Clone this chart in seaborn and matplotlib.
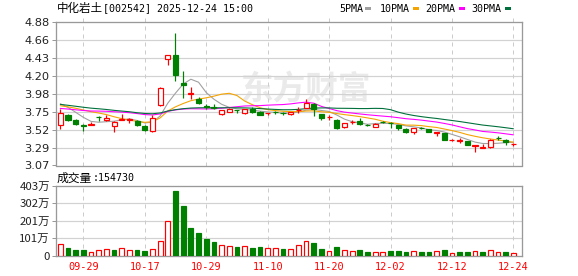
import numpy as np
import pandas as pd
import matplotlib
matplotlib.use("Agg")
import matplotlib.pyplot as plt
from matplotlib.patches import Rectangle
import seaborn as sns

# ---------------- data ----------------
dates = ["09-24", "09-25", "09-26", "09-29", "09-30", "10-09", "10-10", "10-13", "10-14", "10-15",
         "10-16", "10-17", "10-20", "10-21", "10-22", "10-23", "10-24", "10-27", "10-28", "10-29",
         "10-30", "10-31", "11-03", "11-04", "11-05", "11-06", "11-07", "11-10", "11-11", "11-12",
         "11-13", "11-14", "11-17", "11-18", "11-19", "11-20", "11-21", "11-24", "11-25", "11-26",
         "11-27", "11-28", "12-01", "12-02", "12-03", "12-04", "12-05", "12-08", "12-09", "12-10",
         "12-11", "12-12", "12-15", "12-16", "12-17", "12-18", "12-19", "12-22", "12-23", "12-24"]

opens = [3.584, 3.702, 3.647, 3.576, 3.584, 3.686, 3.647, 3.571, 3.643, 3.643,
         3.630, 3.563, 3.508, 3.828, 4.417, 4.472, 4.114, 3.967, 3.912, 3.818,
         3.806, 3.714, 3.747, 3.772, 3.735, 3.785, 3.747, 3.726, 3.743, 3.735,
         3.714, 3.764, 3.798, 3.840, 3.714, 3.676, 3.638, 3.549, 3.617, 3.629,
         3.585, 3.554, 3.619, 3.610, 3.575, 3.533, 3.495, 3.547, 3.524, 3.482,
         3.474, 3.386, 3.377, 3.377, 3.314, 3.293, 3.305, 3.413, 3.385, 3.337]
highs = [3.786, 3.723, 3.660, 3.588, 3.618, 3.690, 3.710, 3.626, 3.723, 3.672,
         3.647, 3.576, 3.702, 4.055, 4.472, 4.742, 4.258, 4.060, 3.934, 3.849,
         3.840, 3.772, 3.789, 3.776, 3.781, 3.806, 3.751, 3.735, 3.756, 3.747,
         3.747, 3.806, 3.903, 3.861, 3.718, 3.701, 3.651, 3.604, 3.638, 3.671,
         3.596, 3.600, 3.625, 3.612, 3.579, 3.537, 3.541, 3.550, 3.528, 3.491,
         3.478, 3.400, 3.411, 3.381, 3.322, 3.335, 3.406, 3.440, 3.406, 3.356]
lows = [3.534, 3.626, 3.580, 3.504, 3.576, 3.630, 3.626, 3.492, 3.639, 3.609,
        3.563, 3.508, 3.492, 3.816, 4.342, 4.135, 3.925, 3.904, 3.849, 3.786,
        3.777, 3.710, 3.747, 3.735, 3.722, 3.735, 3.701, 3.701, 3.714, 3.701,
        3.705, 3.735, 3.789, 3.693, 3.642, 3.638, 3.533, 3.545, 3.596, 3.575,
        3.570, 3.550, 3.610, 3.545, 3.516, 3.482, 3.470, 3.530, 3.487, 3.440,
        3.386, 3.380, 3.356, 3.322, 3.242, 3.293, 3.293, 3.385, 3.326, 3.314]
closes = [3.736, 3.639, 3.592, 3.570, 3.592, 3.682, 3.672, 3.622, 3.656, 3.658,
          3.576, 3.517, 3.672, 4.051, 4.468, 4.211, 4.089, 3.980, 3.862, 3.814,
          3.789, 3.768, 3.785, 3.768, 3.777, 3.743, 3.705, 3.735, 3.739, 3.731,
          3.743, 3.768, 3.861, 3.785, 3.663, 3.680, 3.545, 3.600, 3.621, 3.596,
          3.581, 3.596, 3.615, 3.606, 3.537, 3.491, 3.537, 3.543, 3.491, 3.491,
          3.390, 3.390, 3.390, 3.326, 3.322, 3.301, 3.385, 3.409, 3.368, 3.341]
# closes of the 29 sessions before the window (only used to seed the moving averages)
prior_closes = [3.98, 3.96, 3.95, 3.93, 3.92, 3.94, 3.95, 3.93, 3.92, 3.95,
                3.80, 3.78, 3.75, 3.72, 3.70, 3.72, 3.74, 3.76, 3.79, 3.80,
                3.78, 3.77, 3.79, 3.81, 3.845, 3.87, 3.90, 3.89, 3.849]
# volume in 万 (10k shares)
volumes = [64, 42.6, 31, 31, 19.4, 29, 35, 31, 40.7, 31,
           31, 25, 37, 83, 198, 374, 289, 159, 130, 95,
           77.5, 58, 54, 48, 54, 42.6, 48, 42.6, 42.6, 37,
           37, 60, 83, 72, 37, 25, 48, 31, 25, 31,
           19.4, 19.4, 19.4, 25, 25, 19.4, 25, 19.4, 19.4, 25,
           31, 13.6, 19.4, 19.4, 25, 19.4, 31, 19.4, 19.4, 15.473]
# 1 = up day (red), 0 = down day (green) for volume bars
vol_up = [1, 0, 0, 0, 1, 1, 1, 0, 1, 1,
          0, 0, 1, 1, 1, 0, 0, 0, 0, 0,
          0, 1, 1, 0, 1, 0, 0, 1, 1, 0,
          1, 1, 1, 0, 0, 1, 0, 1, 1, 0,
          0, 1, 1, 0, 0, 0, 1, 0, 0, 1,
          0, 1, 0, 0, 1, 0, 1, 1, 0, 1]

stock_name = "中化岩土"
title_rest = "[002542] 2025-12-24 15:00"
vol_name = "成交量"
vol_rest = ":154730"
price_min, price_max = 3.067, 4.8846
price_tick_labels = ["3.07", "3.29", "3.52", "3.75", "3.98", "4.20", "4.43", "4.66", "4.88"]
vol_max = 403
vol_tick_labels = ["0", "101万", "201万", "302万", "403万"]
xtick_idx = [3, 11, 19, 27, 35, 43, 51, 59]
ma_windows = [5, 10, 20, 30]
ma_names = ["5PMA", "10PMA", "20PMA", "30PMA"]
ma_colors = ["#a0a0a0", "#f5a300", "#ff00ff", "#00703c"]

RED = "#ff0000"
GREEN = "#008000"

# ---------------- style ----------------
sns.set_style("white")
plt.rcParams["font.family"] = ["Noto Sans CJK SC", "DejaVu Sans"]
MONO = ["DejaVu Sans Mono", "Noto Sans CJK SC"]

W, H = 578, 276
fig = plt.figure(figsize=(W / 100, H / 100), dpi=100)
fig.patch.set_facecolor("white")


def rect(l, t, r, b):
    return [l / W, 1 - b / H, (r - l) / W, (b - t) / H]


ax = fig.add_axes(rect(56, 22, 522, 165.5))
axv = fig.add_axes(rect(56, 186, 522, 255.5))

n = len(closes)
idx = np.arange(n)
df = pd.DataFrame({"i": idx, "open": opens, "high": highs, "low": lows,
                   "close": closes, "vol": volumes, "up": vol_up})

# moving averages from closes (seeded by prior closes)
all_closes = pd.Series(prior_closes + closes)
for w, name in zip(ma_windows, ma_names):
    df[name] = all_closes.rolling(w).mean().iloc[len(prior_closes):].to_numpy()

xlim = (-0.56, n - 1 + 1.12)
px = 1 / 100 * 72  # one pixel in points

# watermark
ax.text(0.535, 0.535, "东方财富", transform=ax.transAxes, fontsize=23.5, fontweight="bold",
        color="#eaeaea", ha="center", va="center", zorder=0)

# grid lines
yt = np.linspace(price_min, price_max, len(price_tick_labels))
for y in yt[1:-1]:
    ax.axhline(y, color="#d2d2d2", lw=1.2 * px, zorder=0.5)
vt = np.linspace(0, vol_max, len(vol_tick_labels))
for y in vt[1:-1]:
    axv.axhline(y, color="#d2d2d2", lw=1.2 * px, zorder=0.5)
for a in (ax, axv):
    for xi in xtick_idx:
        a.axvline(xi, color="#cccccc", lw=1 * px, ls=(0, (4, 4)), zorder=0.5)

# MA lines
for name, c in zip(ma_names, ma_colors):
    sns.lineplot(data=df, x="i", y=name, ax=ax, color=c, lw=1.1 * px, zorder=2)

# candles
bw = 0.66
for r in df.itertuples():
    up = r.close >= r.open
    col = RED if up else GREEN
    lo_b, hi_b = min(r.open, r.close), max(r.open, r.close)
    hgt = max(hi_b - lo_b, 0.002)
    ax.vlines(r.i, r.low, lo_b, color=col, lw=1.2 * px, zorder=3)
    ax.vlines(r.i, hi_b, r.high, color=col, lw=1.2 * px, zorder=3)
    ax.bar(r.i, hgt, bottom=lo_b, width=bw, facecolor="white" if up else GREEN,
           edgecolor=col, lw=1.2 * px, zorder=4)

# volume bars
for r in df.itertuples():
    if r.up:
        axv.bar(r.i, r.vol, width=0.62, facecolor="white", edgecolor=RED, lw=1.2 * px, zorder=3)
    else:
        axv.bar(r.i, r.vol, width=0.62, facecolor=GREEN, edgecolor=GREEN, lw=1.2 * px, zorder=3)

# axes formatting
ax.set_xlim(*xlim)
ax.set_ylim(price_min, price_max)
ax.set_yticks(yt)
ax.set_yticklabels(price_tick_labels, family="DejaVu Sans", fontsize=8.2, color="#222222")
ax.set_xticks(xtick_idx)
ax.set_xticklabels([])
ax.tick_params(axis="y", length=3, width=px, color="#999999", pad=1.5, left=True)
ax.tick_params(axis="x", length=3, width=px, color="#cccccc", top=True, bottom=False,
               labeltop=False, labelbottom=False, direction="out")
ax.set_xlabel("")
ax.set_ylabel("")

axv.set_xlim(*xlim)
axv.set_ylim(0, vol_max)
axv.set_yticks(vt)
axv.set_yticklabels(vol_tick_labels, fontsize=8.2, color="#222222")
axv.set_xticks(xtick_idx)
axv.set_xticklabels([dates[i] for i in xtick_idx], family=MONO, fontsize=7.4, color=RED)
axv.tick_params(axis="y", length=3, width=px, color="#999999", pad=1.5, left=True)
axv.tick_params(axis="x", length=0, pad=5)
axv.set_xlabel("")
axv.set_ylabel("")

for a in (ax, axv):
    for s in a.spines.values():
        s.set_color("#999999")
        s.set_linewidth(1.3 * px)
    a.set_facecolor("white")

# texts
fig.text(57 / W, 1 - 8.5 / H, stock_name, fontsize=8.3, va="center", ha="left", color="#000000")
fig.text(103 / W, 1 - 8.5 / H, title_rest, family=MONO, fontsize=7.2, va="center", ha="left",
         color="#000000")
fig.text(57 / W, 1 - 178 / H, vol_name, fontsize=8.5, va="center", ha="left", color="#000000")
fig.text(92.5 / W, 1 - 178 / H, vol_rest, family=MONO, fontsize=7.2, va="center", ha="left",
         color="#000000")

leg_x = [339, 380, 425.5, 471.5]
sq_x = [365, 413, 458.5, 505]
for name, c, tx, sx in zip(ma_names, ma_colors, leg_x, sq_x):
    fig.text(tx / W, 1 - 9 / H, name, family=MONO, fontsize=7.2, va="center", ha="left",
             color="#000000")
    fig.patches.append(Rectangle((sx / W, 1 - 10.2 / H), 6 / W, 3 / H, transform=fig.transFigure,
                                 facecolor=c, edgecolor="none"))

fig.savefig("out.png", dpi=100)
